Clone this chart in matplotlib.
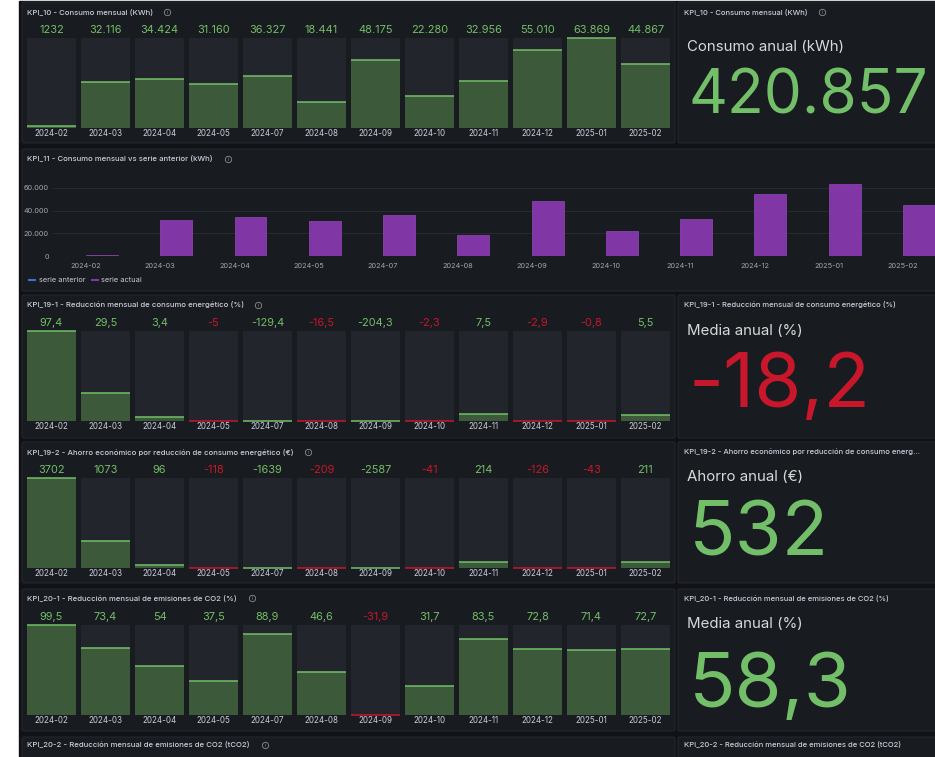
import matplotlib.pyplot as plt
from matplotlib.patches import FancyBboxPatch, Rectangle
from matplotlib.lines import Line2D
import numpy as np

plt.rcParams['font.family'] = ['Inter', 'DejaVu Sans']

W, H = 935, 757

# data
meses = ['2024-02', '2024-03', '2024-04', '2024-05', '2024-07', '2024-08',
         '2024-09', '2024-10', '2024-11', '2024-12', '2025-01', '2025-02']
consumo = [1232, 32116, 34424, 31160, 36327, 18441, 48175, 22280, 32956, 55010, 63869, 44867]
reduccion_consumo = [97.4, 29.5, 3.4, -5, -129.4, -16.5, -204.3, -2.3, 7.5, -2.9, -0.8, 5.5]
ahorro = [3702, 1073, 96, -118, -1639, -209, -2587, -41, 214, -126, -43, 211]
reduccion_co2 = [99.5, 73.4, 54, 37.5, 88.9, 46.6, -31.9, 31.7, 83.5, 72.8, 71.4, 72.7]

consumo_anual = 420857
media_reduccion = -18.2
ahorro_anual = 532
media_co2 = 58.3

# values in [umbral, 0) are shown red (grafana thresholds)
umbral_consumo = None
umbral_reduccion = -100
umbral_ahorro = -1000
umbral_co2 = -100

DASH = '#111217'
PANEL = '#181b1f'
BORDER = '#24272d'
SLOT = '#22252b'
GREEN = '#73bf69'
GREEN_FILL = '#3c5a3a'
RED = '#c8172b'
RED_FILL = '#4a1f26'
TXT = '#ccccdc'
PURPLE = '#8136a6'
BLUE = '#3274d9'
ICON = '#8e8e95'


def fmt(v):
    if abs(v) >= 10000:
        return f"{v:,.0f}".replace(",", ".")
    s = f"{v:.1f}".replace(".", ",")
    if s.endswith(",0"):
        s = s[:-2]
    return s


def color_of(v, lo):
    if lo is not None and lo <= v < 0:
        return RED
    return GREEN


def px(x0, y0, x1, y1):
    return [x0 / W, 1 - y1 / H, (x1 - x0) / W, (y1 - y0) / H]


def info_icon(x, y):
    bg.plot([x], [y], marker='o', ms=4.6, mfc='none', mec=ICON, mew=0.6)
    bg.text(x, y + 0.3, 'i', fontsize=3.6, color=ICON, ha='center', va='center')


fig = plt.figure(figsize=(W / 100, H / 100), dpi=100, facecolor='white')
bg = fig.add_axes([0, 0, 1, 1])
bg.set_xlim(0, W)
bg.set_ylim(H, 0)
bg.axis('off')
bg.add_patch(Rectangle((19, 1), W - 19, H, color=DASH))

panels = [(22, 2, 675, 143), (678, 2, 945, 143), (22, 149, 945, 291),
          (22, 295, 675, 438), (678, 295, 945, 438),
          (22, 442, 675, 583), (678, 442, 945, 583),
          (22, 589, 675, 731), (678, 589, 945, 731),
          (22, 737, 675, 780), (678, 737, 945, 780)]
for x0, y0, x1, y1 in panels:
    bg.add_patch(FancyBboxPatch((x0, y0), x1 - x0, y1 - y0,
                                boxstyle='round,pad=0,rounding_size=2',
                                fc=PANEL, ec=BORDER, lw=0.8))

titles = ['KPI_10 - Consumo mensual (KWh)',
          'KPI_11 - Consumo mensual vs serie anterior (kWh)',
          'KPI_19-1 - Reducción mensual de consumo energético (%)',
          'KPI_19-2 - Ahorro económico por reducción de consumo energético (€)',
          'KPI_20-1 - Reducción mensual de emisiones de CO2 (%)',
          'KPI_20-2 - Reducción mensual de emisiones de CO2 (tCO2)']
title_y = [12, 159, 305, 452, 598, 745]
icon_x = [167, 228, 258, 308, 252, 265]
for t, y, ix in zip(titles, title_y, icon_x):
    bg.text(27, y, t, fontsize=5.6, color=TXT, va='center', weight='medium')
    info_icon(ix, y)


def bar_gauge(top, vals, lo):
    ax = fig.add_axes(px(24.5, top + 35.5, 672.5, top + 125.5))
    vmax = max(vals)
    x = np.arange(len(vals))
    cols = [color_of(v, lo) for v in vals]
    fills = [GREEN_FILL if c == GREEN else RED_FILL for c in cols]
    h = np.clip(vals, 0, None)
    ax.bar(x, vmax, width=0.905, color=SLOT)
    ax.bar(x, h, width=0.905, color=fills)
    ax.hlines(h, x - 0.4525, x + 0.4525, colors=cols, lw=1.1, clip_on=False)
    ax.set_xlim(-0.5, len(vals) - 0.5)
    ax.set_ylim(0, vmax)
    ax.axis('off')
    for xi, v, c in zip(x, vals, cols):
        ax.annotate(fmt(v), xy=(xi, 1), xycoords=('data', 'axes fraction'),
                    xytext=(0, 5.4), textcoords='offset points',
                    ha='center', va='center', fontsize=7.9, color=c)
    for xi, m in zip(x, meses):
        ax.annotate(m, xy=(xi, 0), xycoords=('data', 'axes fraction'),
                    xytext=(0, -4.4), textcoords='offset points',
                    ha='center', va='center', fontsize=5.8, color=TXT)
    return ax


bar_gauge(2, consumo, umbral_consumo)
bar_gauge(295, reduccion_consumo, umbral_reduccion)
bar_gauge(442, ahorro, umbral_ahorro)
bar_gauge(589, reduccion_co2, umbral_co2)

# KPI_11 time series (bars)
ax = fig.add_axes(px(53, 172, 935, 256))
ax.set_facecolor('none')
x = np.arange(len(meses))
ax.bar(x, consumo, width=0.43, align='edge', color=PURPLE, edgecolor='#9247ba', lw=0.5,
       zorder=3)
ax.set_xlim(-0.444, 11.43)
ax.set_ylim(0, 74100)
ax.set_yticks([0, 20000, 40000, 60000])
ax.yaxis.set_major_formatter(lambda v, p: f"{v:,.0f}".replace(",", "."))
ax.set_xticks(x)
ax.set_xticklabels(meses)
ax.grid(axis='y', color='#272a30', lw=0.7)
ax.tick_params(length=0, labelsize=5.3, labelcolor='#a3a6ad', pad=5)
ax.tick_params(axis='y', pad=3)
for s in ax.spines.values():
    s.set_visible(False)
ax.legend(handles=[Line2D([], [], color=BLUE, lw=1.5), Line2D([], [], color=PURPLE, lw=1.5)],
          labels=['serie anterior', 'serie actual'], loc='center left',
          bbox_to_anchor=(29 / W, 1 - 280 / H), bbox_transform=fig.transFigure,
          ncol=2, frameon=False, fontsize=5.3, labelcolor=TXT, handlelength=0.8,
          handletextpad=0.5, columnspacing=0.9, borderaxespad=0, borderpad=0)

# stat panels
stat_titles = ['KPI_10 - Consumo mensual (KWh)',
               'KPI_19-1 - Reducción mensual de consumo energético (%)',
               'KPI_19-2 - Ahorro económico por reducción de consumo energ…',
               'KPI_20-1 - Reducción mensual de emisiones de CO2 (%)',
               'KPI_20-2 - Reducción mensual de emisiones de CO2 (tCO2)']
stat_title_y = [12, 305, 452, 598, 745]
for t, y in zip(stat_titles, stat_title_y):
    bg.text(684, y, t, fontsize=5.5, color=TXT, va='center', weight='medium')
info_icon(822, 12)

stats = [('Consumo anual (kWh)', 47, consumo_anual, umbral_consumo, 113, 43.5),
         ('Media anual (%)', 331, media_reduccion, umbral_reduccion, 407, 55),
         ('Ahorro anual (€)', 477, ahorro_anual, umbral_ahorro, 555, 55),
         ('Media anual (%)', 624, media_co2, umbral_co2, 707, 55)]
for sub, sy, val, lo, base, size in stats:
    bg.text(687, sy, sub, fontsize=10.8, color='#d8d9da', va='center')
    bg.text(689, base, fmt(val), fontsize=size, color=color_of(val, lo), va='baseline')

fig.savefig('out.png', dpi=100, facecolor='white')
